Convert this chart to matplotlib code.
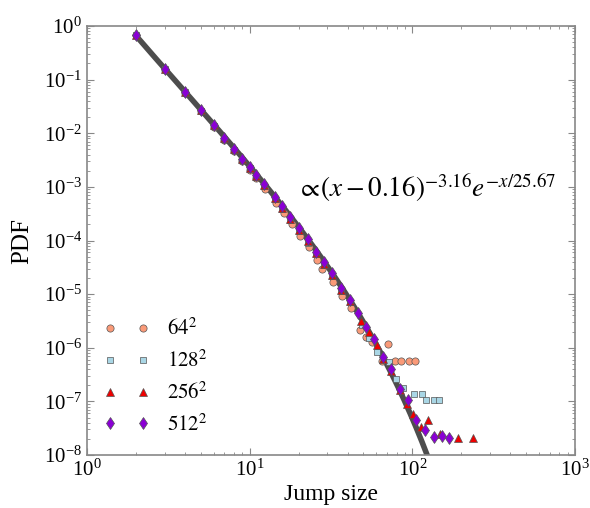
import numpy as np
import matplotlib
matplotlib.use('Agg')
import matplotlib.pyplot as plt

# Jump size distributions for four lattice sizes (log10 of PDF)
x_64 = [2, 3, 4, 5, 6, 7, 8, 9, 10, 11, 12.5, 14.6, 16.2, 18.1, 20.5, 23.0, 26.0,
        27.9, 32.6, 37.0, 41.7, 47.6, 51.9, 56.7, 64.7, 71.3, 78.5, 84.8, 95.3, 103.3]
logp_64 = [-0.17, -0.82, -1.24, -1.59, -1.88, -2.12, -2.33, -2.51, -2.68, -2.84, -3.04,
           -3.30, -3.48, -3.69, -3.92, -4.13, -4.37, -4.53, -4.78, -5.03, -5.26, -5.66,
           -5.80, -5.90, -6.244, -5.933, -6.244, -6.244, -6.244, -6.244]

x_128 = [2, 3, 4, 5, 6, 7, 8, 9, 10, 11, 12.3, 14.4, 15.9, 17.8, 20.2, 22.7, 25.7,
         28.7, 32.2, 36.6, 41.2, 49.2, 54.5, 60.3, 72.1, 78.9, 87.5, 102.3, 114, 121,
         136, 146]
logp_128 = [-0.17, -0.81, -1.23, -1.58, -1.86, -2.10, -2.31, -2.49, -2.65, -2.81, -2.99,
            -3.23, -3.41, -3.61, -3.83, -4.04, -4.26, -4.46, -4.67, -4.95, -5.15, -5.57,
            -5.81, -6.07, -6.263, -6.58, -6.754, -6.853, -6.853, -6.978, -6.978, -6.978]

x_256 = [2, 3, 4, 5, 6, 7, 8, 9, 10, 11, 12.3, 14.4, 15.9, 17.8, 20.2, 22.7, 25.7,
         28.7, 32.2, 36.6, 41.2, 48.3, 54.4, 60.8, 65.9, 74.4, 83.5, 92.1, 101, 112.4,
         124, 148, 190, 235]
logp_256 = [-0.17, -0.81, -1.23, -1.57, -1.85, -2.09, -2.30, -2.48, -2.64, -2.79, -2.96,
            -3.20, -3.39, -3.59, -3.81, -4.01, -4.24, -4.43, -4.64, -4.92, -5.13, -5.50,
            -5.70, -5.94, -6.21, -6.44, -6.78, -7.05, -7.244, -7.476, -7.35, -7.60,
            -7.68, -7.68]

x_512 = [2, 3, 4, 5, 6, 7, 8, 9, 10, 11, 12.3, 14.4, 15.9, 17.8, 20.2, 22.7, 25.7,
         28.7, 32.2, 36.6, 41.2, 46.3, 52.1, 58.5, 65.9, 74.4, 83.5, 94, 105, 120,
         136, 152, 169]
logp_512 = [-0.168, -0.808, -1.226, -1.567, -1.847, -2.080, -2.289, -2.472, -2.625,
            -2.775, -2.94, -3.18, -3.365, -3.56, -3.775, -3.98, -4.205, -4.40,
            -4.61, -4.88, -5.10, -5.35, -5.62, -5.84, -6.17, -6.40, -6.76,
            -6.981, -7.351, -7.537, -7.655, -7.640, -7.692]

# fitted law shown in the annotation
fit_shift = 0.16
fit_exponent = 3.16
fit_cutoff = 25.67
fit_amp = 4.9

plt.rcParams['font.family'] = ['Liberation Serif', 'DejaVu Serif']
plt.rcParams['mathtext.fontset'] = 'stix'

fig = plt.figure(figsize=(5.9, 5.08), dpi=100)
ax = fig.add_axes([0.1475, 0.1043, 0.8271, 0.8445])

xs = np.logspace(np.log10(2), np.log10(130), 300)
ax.plot(xs, fit_amp * (xs - fit_shift) ** (-fit_exponent) * np.exp(-xs / fit_cutoff),
        color='#3a3a3a', lw=4, alpha=0.9, zorder=1)

styles = [
    (x_64, logp_64, 'o', '#fa9a78', 5.2, r'$64^2$'),
    (x_128, logp_128, 's', '#a9d6e5', 5.0, r'$128^2$'),
    (x_256, logp_256, '^', '#ee0000', 5.5, r'$256^2$'),
    (x_512, logp_512, 'd', '#8a00d4', 6.0, r'$512^2$'),
]
for xv, lv, mk, col, ms, lab in styles:
    ax.plot(xv, 10 ** np.array(lv), ls='none', marker=mk, color=col, ms=ms,
            mec='#555555', mew=0.5, label=lab, zorder=2)

ax.set_xscale('log')
ax.set_yscale('log')
ax.set_xlim(1, 1e3)
ax.set_ylim(1e-8, 1)

ax.text(19.6, 9.5e-4, r'$\propto\!(x-0.16)^{-3.16}e^{-x/25.67}$', fontsize=19.5,
        va='center', ha='left')

ax.set_xlabel('Jump size', fontsize=17, labelpad=2)
ax.set_ylabel('PDF', fontsize=18, labelpad=8)

for s in ax.spines.values():
    s.set_color('#888888')
    s.set_linewidth(1.2)
ax.tick_params(which='both', direction='in', top=True, right=True, colors='#888888',
               labelcolor='black', labelsize=15)
ax.tick_params(which='major', length=5)
ax.tick_params(which='minor', length=2.5)
ax.yaxis.set_minor_locator(matplotlib.ticker.LogLocator(base=10, subs=np.arange(2, 10), numticks=20))
ax.yaxis.set_minor_formatter(matplotlib.ticker.NullFormatter())

ax.legend(loc='lower left', bbox_to_anchor=(0.035, 0.045), frameon=False, numpoints=2,
          handlelength=2.15, handletextpad=0.85, labelspacing=0.5, fontsize=15,
          borderpad=0, borderaxespad=0)

fig.savefig('out.png', dpi=100)
